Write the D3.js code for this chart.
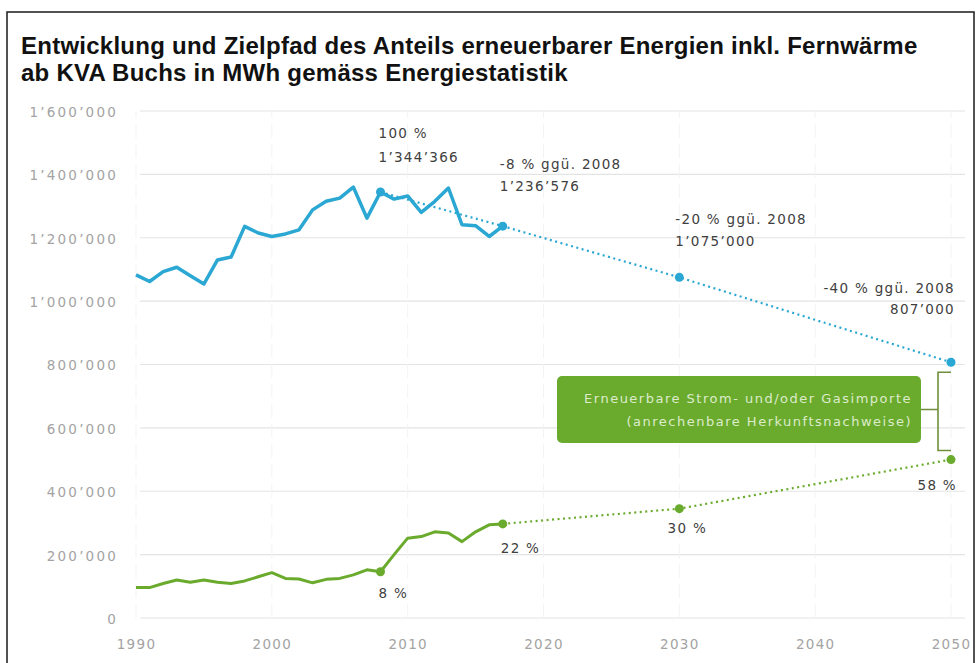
<!DOCTYPE html>
<html>
<head>
<meta charset="utf-8">
<script src="https://cdn.jsdelivr.net/npm/d3@7"></script>
<style>
  html, body { margin: 0; padding: 0; background: #fff; }
  svg { display: block; }
</style>
</head>
<body>
<svg id="chart" width="980" height="663"></svg>
<script>
// ---------- DATA ----------
const titleLines = [
  "Entwicklung und Zielpfad des Anteils erneuerbarer Energien inkl. Fernwärme",
  "ab KVA Buchs in MWh gemäss Energiestatistik"
];
const years = [1990,1991,1992,1993,1994,1995,1996,1997,1998,1999,2000,2001,2002,2003,2004,2005,2006,2007,2008,2009,2010,2011,2012,2013,2014,2015,2016,2017];
const totalRenewable = [1083000,1062000,1093000,1107000,1080000,1054000,1130000,1139000,1236000,1215000,1204000,1212000,1225000,1288000,1315000,1325000,1360000,1262000,1344366,1322000,1332000,1280000,1315000,1357000,1241000,1238000,1204000,1236576];
const localShare = [96000,96000,109000,120000,113000,120000,113000,109000,117000,130000,143000,125000,123000,111000,122000,125000,136000,152000,146000,200000,252000,257000,272000,268000,241000,272000,294000,297000];
const targetYears = [2008, 2017, 2030, 2050];
const targetTotal = [1344366, 1236576, 1075000, 807000];
const pathYearsGreen = [2017, 2030, 2050];
const pathGreen = [297000, 345000, 500000];
const greenDotYears = [2008, 2017, 2030, 2050];
const greenDotValues = [146000, 297000, 345000, 500000];
const blueLabels = [["100 %", "1’344’366"], ["-8 % ggü. 2008", "1’236’576"], ["-20 % ggü. 2008", "1’075’000"], ["-40 % ggü. 2008", "807’000"]];
const greenLabels = ["8 %", "22 %", "30 %", "58 %"];
const boxLines = ["Erneuerbare Strom- und/oder Gasimporte", "(anrechenbare Herkunftsnachweise)"];
const yTicks = [0, 200000, 400000, 600000, 800000, 1000000, 1200000, 1400000, 1600000];
const xTicks = [1990, 2000, 2010, 2020, 2030, 2040, 2050];

// ---------- SETUP ----------
const BLUE = "#2aa7d2", GREEN = "#6aab2e";
const svg = d3.select("#chart");
const x = d3.scaleLinear().domain([1990, 2050]).range([136, 951]);
const y = d3.scaleLinear().domain([0, 1600000]).range([618, 111]);
const fmt = d3.formatLocale({decimal: ".", thousands: "’", grouping: [3], currency: ["", ""]}).format(",d");
const labelFont = "'DejaVu Sans', sans-serif";

// frame
svg.append("rect").attr("x", 7).attr("y", 12).attr("width", 967).attr("height", 670)
  .attr("fill", "none").attr("stroke", "#1a1a1a").attr("stroke-width", 1.5);

// title
const title = svg.append("text").attr("x", 21).attr("y", 54)
  .attr("font-family", "'Liberation Sans', Arial, sans-serif").attr("font-weight", "bold")
  .attr("font-size", 24).attr("letter-spacing", "0.25px").attr("fill", "#111");
title.selectAll("tspan").data(titleLines).join("tspan")
  .attr("x", 21).attr("dy", (d, i) => i === 0 ? 0 : 27).text(d => d);

// grid
const grid = svg.append("g");
grid.selectAll("line.h").data(yTicks).join("line").attr("class", "h")
  .attr("x1", x(1990) + 4).attr("x2", x(2050) + 14)
  .attr("y1", d => y(d)).attr("y2", d => y(d))
  .attr("stroke", "#e4e4e4").attr("stroke-width", 1.2);
grid.selectAll("line.v").data(xTicks).join("line").attr("class", "v")
  .attr("x1", d => x(d)).attr("x2", d => x(d))
  .attr("y1", y(0)).attr("y2", y(1600000))
  .attr("stroke", "#f3f3f3").attr("stroke-width", 1).attr("stroke-dasharray", "14,6");

// axes
const yAxis = svg.append("g").attr("transform", `translate(${x(1990) - 18},0)`)
  .call(d3.axisLeft(y).tickValues(yTicks).tickFormat(fmt).tickSize(0).tickPadding(0));
yAxis.select(".domain").remove();
yAxis.selectAll("text").attr("font-family", labelFont).attr("font-size", 13.5)
  .attr("letter-spacing", "2.2px").attr("fill", "#a3a3a3").attr("dy", "0.4em");

const xAxis = svg.append("g").attr("transform", `translate(0,${y(0) + 21})`)
  .call(d3.axisBottom(x).tickValues(xTicks).tickFormat(d3.format("d")).tickSize(0).tickPadding(0));
xAxis.select(".domain").remove();
xAxis.selectAll("text").attr("font-family", labelFont).attr("font-size", 13.5)
  .attr("letter-spacing", "1.3px").attr("fill", "#a3a3a3");

// target paths (dotted)
const line = d3.line().x(d => x(d[0])).y(d => y(d[1]));
svg.append("path").datum(targetYears.map((yr, i) => [yr, targetTotal[i]]))
  .attr("d", line).attr("fill", "none").attr("stroke", BLUE).attr("stroke-width", 2.2)
  .attr("stroke-dasharray", "2,3.5");
svg.append("path").datum(pathYearsGreen.map((yr, i) => [yr, pathGreen[i]]))
  .attr("d", line).attr("fill", "none").attr("stroke", GREEN).attr("stroke-width", 2.2)
  .attr("stroke-dasharray", "2,3.5");

// actual series
svg.append("path").datum(years.map((yr, i) => [yr, totalRenewable[i]]))
  .attr("d", line).attr("fill", "none").attr("stroke", BLUE).attr("stroke-width", 3.5)
  .attr("stroke-linejoin", "round");
svg.append("path").datum(years.map((yr, i) => [yr, localShare[i]]))
  .attr("d", line).attr("fill", "none").attr("stroke", GREEN).attr("stroke-width", 3)
  .attr("stroke-linejoin", "round");

// dots
svg.selectAll("circle.b").data(targetYears).join("circle").attr("class", "b")
  .attr("cx", d => x(d)).attr("cy", (d, i) => y(targetTotal[i])).attr("r", 4.5).attr("fill", BLUE);
svg.selectAll("circle.g").data(greenDotYears).join("circle").attr("class", "g")
  .attr("cx", d => x(d)).attr("cy", (d, i) => y(greenDotValues[i])).attr("r", 4.5).attr("fill", GREEN);

// annotation labels
const ann = svg.append("g").attr("font-family", labelFont).attr("font-size", 13.5)
  .attr("letter-spacing", "1.3px").attr("fill", "#404040");
// offsets relative to each point: [dx, dy of first line, anchor]
const blueOff = [[-2, -54, "start"], [-3, -57, "start"], [-4, -31, "start"], [4, -69, "end"]];
const blueLineGap = [24, 22, 22, 21];
blueLabels.forEach((lines, i) => {
  const o = blueOff[i];
  const t = ann.append("text").attr("text-anchor", o[2])
    .attr("x", x(targetYears[i]) + o[0]).attr("y", y(targetTotal[i]) + o[1]);
  lines.forEach((s, j) => t.append("tspan").attr("x", x(targetYears[i]) + o[0])
    .attr("dy", j ? blueLineGap[i] : (i === 2 ? -blueLineGap[i] : 0)).text(s));
});
const greenOff = [[-2, 26, "start"], [-2, 29, "start"], [8, 24, "middle"], [6, 30, "end"]];
greenLabels.forEach((s, i) => {
  const o = greenOff[i];
  ann.append("text").attr("text-anchor", o[2])
    .attr("x", x(greenDotYears[i]) + o[0]).attr("y", y(greenDotValues[i]) + o[1]).text(s);
});

// green box with bracket
const bx0 = 557, bx1 = 921, by0 = 376, by1 = 443;
svg.append("rect").attr("x", bx0).attr("y", by0).attr("width", bx1 - bx0).attr("height", by1 - by0)
  .attr("rx", 5).attr("fill", GREEN);
const bt = svg.append("text").attr("font-family", labelFont).attr("font-size", 13)
  .attr("letter-spacing", "1.5px").attr("text-anchor", "end").attr("fill", "#ddebcb");
boxLines.forEach((s, j) => bt.append("tspan").attr("x", bx1 - 9).attr("y", by0 + 27 + j * 23).text(s));
const brX = bx1 + 17;
const yTop = y(targetTotal[3]) + 10, yBot = y(greenDotValues[3]) - 9;
svg.append("path")
  .attr("d", `M${x(2050)},${yTop} H${brX} V${yBot} H${x(2050)} M${bx1},${(by0 + by1) / 2} H${brX}`)
  .attr("fill", "none").attr("stroke", "#6f8f3c").attr("stroke-width", 1.6);
</script>
</body>
</html>
